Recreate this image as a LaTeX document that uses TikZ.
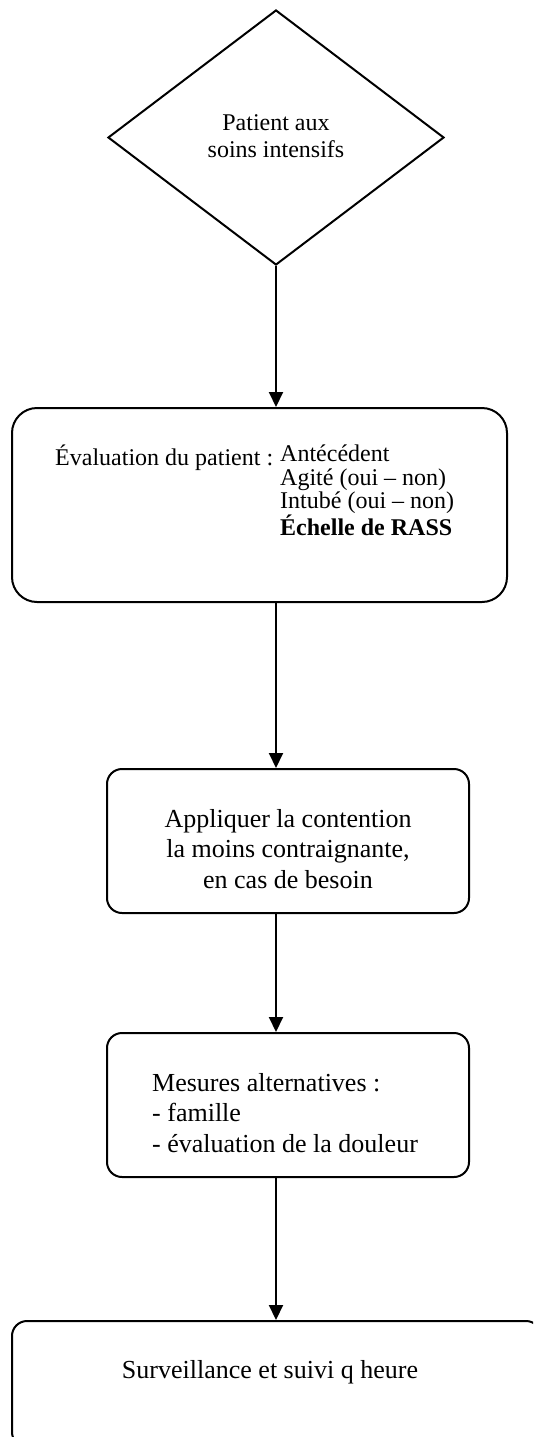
\documentclass[tikz,border=0pt]{standalone}
\usepackage{fontspec}
\setmainfont{Liberation Serif}
\usetikzlibrary{shapes.geometric,arrows.meta}
\begin{document}
\begin{tikzpicture}[x=1pt,y=-1pt,
  shapeline/.style={draw=black, line width=2pt},
  decision/.style={shapeline, diamond, inner sep=0pt, minimum width=336pt, minimum height=255pt},
  bigbox/.style={shapeline, rectangle, rounded corners=25pt, inner sep=0pt},
  smallbox/.style={shapeline, rectangle, rounded corners=15pt, inner sep=0pt},
  txtsmall/.style={inner sep=0pt, font=\fontsize{24pt}{27pt}\selectfont},
  txtlist/.style={inner sep=0pt, font=\fontsize{24pt}{23.5pt}\selectfont},
  txtbig/.style={inner sep=0pt, font=\fontsize{26pt}{30.5pt}\selectfont},
  flow/.style={line width=2pt, -{Triangle[length=15pt,width=14pt]}}]
\useasboundingbox (0,0) rectangle (533,1437);
\clip (0,0) rectangle (533,1437);

% shapes
\node[decision] (dia) at (276,137.5) {};
\node[bigbox, minimum width=495pt, minimum height=194pt] (eval) at (259.5,505) {};
\node[smallbox, minimum width=362pt, minimum height=144pt] (restr) at (288,841) {};
\node[smallbox, minimum width=362pt, minimum height=144pt] (alt) at (288,1105) {};
\node[smallbox, minimum width=529pt, minimum height=126pt] (watch) at (276.5,1384) {};

% texts (base anchor = baseline of the last line)
\node[txtsmall, align=center, anchor=base] (diatext) at (276,157) {Patient aux\\soins intensifs};
\node[txtlist, anchor=base west] (evalhead) at (55,465) {Évaluation du patient :};
\node[txtlist, anchor=base west, align=left] (evallist) at (280,535.5)
  {Antécédent\\Agité (oui – non)\\Intubé (oui – non)\\\textbf{Échelle de RASS}};
\node[txtbig, align=center, anchor=base] (restrtext) at (288,888)
  {Appliquer la contention\\la moins contraignante,\\en cas de besoin};
\node[txtbig, align=left, anchor=base west] (alttext) at (152,1152)
  {Mesures alternatives :\\- famille\\- évaluation de la douleur};
\node[txtbig, anchor=base] (watchtext) at (270,1378) {Surveillance et suivi q heure};

% connectors
\draw[flow] (dia.south) -- (dia.south |- eval.north);
\draw[flow] (dia.south |- eval.south) -- (dia.south |- restr.north);
\draw[flow] (dia.south |- restr.south) -- (dia.south |- alt.north);
\draw[flow] (dia.south |- alt.south) -- (dia.south |- watch.north);
\end{tikzpicture}
\end{document}
